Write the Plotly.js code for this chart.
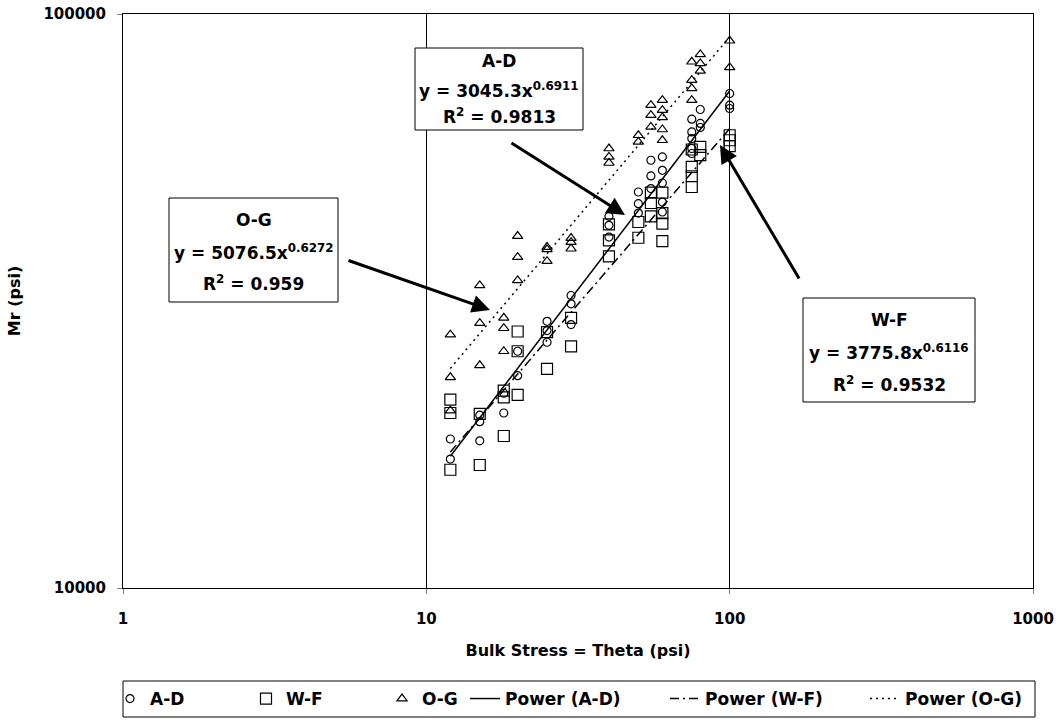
<!DOCTYPE html>
<html>
<head>
<meta charset="utf-8">
<script src="https://cdn.plot.ly/plotly-3.0.1.min.js"></script>
<style>html,body{margin:0;padding:0;background:#fff;}#chart{width:1062px;height:728px;}</style>
</head>
<body>
<div id="chart"></div>
<script>
// ---- data ----
const adX = [12,12, 15,15,15, 18,18, 20,20, 25,25,25, 30,30,30, 40,40,40, 50,50,50, 55,55,55, 60,60,60,60,60, 75,75,75,75,75, 80,80,80, 100,100,100];
const adY = [18180,16770, 19490,18050,20000, 21840,20180, 25850,23440, 29150,28090,26800, 32330,31270,28770, 44420,42840,40860, 48970,46730,45000, 55620,52220,49640, 56360,53420,50770,47030,45190, 65590,62320,60680,58300,57140, 68180,64460,63430, 72700,69370,68450];

const wfX = [12,12,12, 15,15, 18,18,18, 20,20,20, 25,25, 30,30, 40,40,40, 50,50, 55,55,55, 60,60,60,60, 75,75,75,75, 80,80, 100,100,100];
const wfY = [21290,20180,16070, 20100,16380, 22070,21490,18400, 27980,25850,21700, 27900,24080, 29560,26370, 43010,40330,37820, 43410,40760, 48850,46850,44420, 48850,45000,43130,40220, 58070,54140,52160,49960, 58680,56750, 61480,60260,58840];

const ogX = [12,12,12, 15,15,15, 18,18,18, 20,20,20, 25,25,25, 30,30,30, 40,40,40, 50,50, 55,55,55, 60,60,60,60,60, 75,75,75,75, 80,80,80, 100,100];
const ogY = [27630,23280,20370, 33660,28930,24430, 29560,28350,25850, 41030,37710,34340, 39260,38900,37110, 40700,40050,39000, 58300,56360,55010, 61480,59850, 69370,66630,63580, 70780,68000,66030,62920,60260, 82560,76700,74180,70780, 85040,82030,79620, 89820,80720];

// trendline end points (power fits, straight on log-log)
const trendX = [12, 100];
const adTrendY = [16960, 73420];
const wfTrendY = [17260, 63130];
const ogTrendY = [24130, 91220];

const seriesNames = ['A-D','W-F','O-G','Power (A-D)','Power (W-F)','Power (O-G)'];
const xTicks = [1,10,100,1000];
const yTicks = [10000,100000];

const boxLabels = [
  {title:'A-D', eq:'y = 3045.3x<sup>0.6911</sup>', r2:'R<sup>2</sup> = 0.9813'},
  {title:'O-G', eq:'y = 5076.5x<sup>0.6272</sup>', r2:'R<sup>2</sup> = 0.959'},
  {title:'W-F', eq:'y = 3775.8x<sup>0.6116</sup>', r2:'R<sup>2</sup> = 0.9532'}
];

// ---- styling ----
const FONT = 'DejaVu Sans, Verdana, sans-serif';
const mk = (sym, size) => ({symbol: sym, size: size, color: '#000', line: {color: '#000', width: 1.2}});

const traces = [
  {x: adX, y: adY, name: seriesNames[0], mode: 'markers', type: 'scatter', marker: mk('circle-open', 8), legend: 'legend'},
  {x: wfX, y: wfY, name: seriesNames[1], mode: 'markers', type: 'scatter', marker: mk('square-open', 11), legend: 'legend'},
  {x: ogX, y: ogY, name: seriesNames[2], mode: 'markers', type: 'scatter', marker: mk('triangle-up-open', 9), legend: 'legend'},
  {x: trendX, y: adTrendY, name: seriesNames[3], mode: 'lines', type: 'scatter', line: {color: '#000', width: 1.5}, legend: 'legend2'},
  {x: trendX, y: wfTrendY, name: seriesNames[4], mode: 'lines', type: 'scatter', line: {color: '#000', width: 1.5, dash: '9px,4px,2px,4px'}, legend: 'legend2'},
  {x: trendX, y: ogTrendY, name: seriesNames[5], mode: 'lines', type: 'scatter', line: {color: '#000', width: 1.5, dash: '2px,4px'}, legend: 'legend2'}
];

// plot area in pixels: left 123, right 1033, top 14, bottom 588
const W = 1062, H = 728;
const PL = 123, PR = 1033, PT = 14, PB = 588;
const px = v => (v - PL) / (PR - PL);
const py = v => (PB - v) / (PB - PT);

const boxes = [
  {x0: 415, x1: 583, y0: 48, y1: 130, lines: [61, 90, 116]},
  {x0: 169, x1: 338, y0: 198, y1: 302, lines: [220, 252, 283]},
  {x0: 803, x1: 975, y0: 298, y1: 402, lines: [320, 352, 384]}
];
const arrows = [
  {hx: 625, hy: 215, tx: 510, ty: 142},
  {hx: 490, hy: 310, tx: 347, ty: 260},
  {hx: 720, hy: 145, tx: 800, ty: 280}
];

const shapes = [];
const annotations = [];
boxes.forEach((b, i) => {
  shapes.push({type: 'rect', xref: 'paper', yref: 'paper', x0: px(b.x0), x1: px(b.x1), y0: py(b.y1), y1: py(b.y0),
    line: {color: '#000', width: 1}, fillcolor: '#fff', layer: 'above'});
  const cx = px((b.x0 + b.x1) / 2);
  const t = [boxLabels[i].title, boxLabels[i].eq, boxLabels[i].r2];
  t.forEach((s, j) => {
    annotations.push({xref: 'paper', yref: 'paper', x: cx, y: py(b.lines[j]), text: s, showarrow: false,
      xanchor: 'center', yanchor: 'middle', font: {family: FONT, size: 17, color: '#000', weight: 'bold'}});
  });
});
arrows.forEach(a => {
  annotations.push({xref: 'paper', yref: 'paper', x: px(a.hx), y: py(a.hy), ax: a.tx - a.hx, ay: a.ty - a.hy,
    axref: 'pixel', ayref: 'pixel', text: '', showarrow: true, arrowhead: 2, arrowsize: 1.2, arrowwidth: 3, arrowcolor: '#000'});
});
// legend frame
shapes.push({type: 'rect', xref: 'paper', yref: 'paper', x0: px(123), x1: px(1035), y0: py(717), y1: py(681),
  line: {color: '#000', width: 1}, fillcolor: 'rgba(0,0,0,0)', layer: 'above'});

const legFont = {family: FONT, size: 17, color: '#000', weight: 'bold'};
const layout = {
  width: W, height: H,
  margin: {l: PL, r: W - PR, t: PT, b: H - PB},
  paper_bgcolor: '#fff', plot_bgcolor: '#fff',
  font: {family: FONT, size: 15, color: '#000', weight: 'bold'},
  showlegend: true,
  legend: {orientation: 'h', xref: 'container', yref: 'container', x: 110 / W, xanchor: 'left', y: (H - 699) / H, yanchor: 'middle',
    font: legFont, borderwidth: 0, bgcolor: 'rgba(0,0,0,0)',
    itemwidth: 30, entrywidth: 91, entrywidthmode: 'pixels'},
  legend2: {orientation: 'h', xref: 'container', yref: 'container', x: 465 / W, xanchor: 'left', y: (H - 699) / H, yanchor: 'middle',
    font: legFont, borderwidth: 0, bgcolor: 'rgba(0,0,0,0)',
    itemwidth: 30, entrywidth: 155, entrywidthmode: 'pixels'},
  xaxis: {type: 'log', range: [0, 3], tickvals: xTicks, ticktext: xTicks.map(String),
    showgrid: true, gridcolor: '#000', gridwidth: 1, zeroline: false,
    showline: true, linecolor: '#000', linewidth: 1, mirror: true,
    ticks: 'outside', ticklen: 5, tickcolor: '#808080', ticklabelstandoff: 12,
    tickfont: {family: FONT, size: 15, color: '#000', weight: 'bold'},
    title: {text: 'Bulk Stress = Theta (psi)', font: {family: FONT, size: 16, color: '#000', weight: 'bold'}, standoff: 17},
    automargin: false},
  yaxis: {type: 'log', range: [4, 5], tickvals: yTicks, ticktext: yTicks.map(String),
    showgrid: false, zeroline: false,
    showline: true, linecolor: '#000', linewidth: 1, mirror: true,
    ticks: 'outside', ticklen: 5, tickcolor: '#808080', ticklabelstandoff: 8,
    tickfont: {family: FONT, size: 15, color: '#000', weight: 'bold'},
    title: {text: 'Mr (psi)', font: {family: FONT, size: 16, color: '#000', weight: 'bold'}, standoff: 18},
    automargin: false},
  shapes: shapes,
  annotations: annotations
};

Plotly.newPlot('chart', traces, layout, {displayModeBar: false, staticPlot: true});
</script>
</body>
</html>
